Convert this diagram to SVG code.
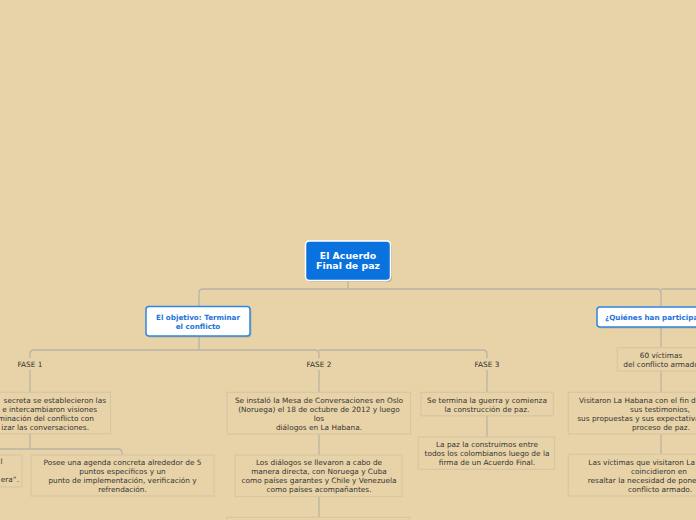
<svg xmlns="http://www.w3.org/2000/svg" width="696" height="520" viewBox="0 0 696 520">
<defs>
<style>
.bg{fill:#E8D3A8}
.ln{fill:none;stroke:#B9B3A5;stroke-width:1.3}
.box{fill:#E8D3A8;stroke:#D5C6A4;stroke-width:1.2}
.t{font-family:"DejaVu Sans","Verdana",sans-serif;font-size:7.35px;fill:#333}
.c{text-anchor:middle}
.e{text-anchor:end}
.root{fill:#0A72DF;stroke:#FFFFFF;stroke-width:1.5}
.rt{font-family:"DejaVu Sans",sans-serif;font-size:9.4px;font-weight:bold;fill:#FFFFFF;text-anchor:middle}
.sub{fill:#FFFFFF;stroke:#2E86E2;stroke-width:1.5}
.sh{fill:#9C8F78;opacity:0.45}
.st{font-family:"DejaVu Sans",sans-serif;font-size:7.2px;font-weight:bold;fill:#1C74DA}
</style>
</defs>
<rect class="bg" x="0" y="0" width="696" height="520"/>

<g id="connectors">
<path class="ln" d="M348,281 V289"/>
<path class="ln" d="M348,289 H203 Q199,289 199,293 V306"/>
<path class="ln" d="M348,289 H657 Q661,289 661,293 V306"/>
<path class="ln" d="M661,289 H700"/>
<path class="ln" d="M199,337 V350"/>
<path class="ln" d="M199,350 H34 Q30,350 30,354 V358"/>
<path class="ln" d="M199,350 H315 Q319,350 319,354 V358"/>
<path class="ln" d="M319,350 H483 Q487,350 487,354 V358"/>
<path class="ln" d="M30,370 V392"/>
<path class="ln" d="M319,370 V392"/>
<path class="ln" d="M487,370 V392"/>
<path class="ln" d="M30,434 V449"/>
<path class="ln" d="M30,449 H118 Q122,449 122,453 V455"/>
<path class="ln" d="M30,449 H-10"/>
<path class="ln" d="M319,434 V455"/>
<path class="ln" d="M319,497 V517"/>
<path class="ln" d="M487,416 V437"/>
<path class="ln" d="M661,327 V348"/>
<path class="ln" d="M661,371 V392"/>
<path class="ln" d="M661,434 V454"/>
</g>

<g id="root">
<rect class="sh" x="307" y="243" width="85" height="39" rx="4"/>
<rect class="root" x="305.5" y="241" width="85" height="39.5" rx="4"/>
<text class="rt" x="348" y="259">El Acuerdo</text>
<text class="rt" x="348" y="269">Final de paz</text>
</g>

<g id="objetivo">
<rect class="sh" x="147.5" y="308" width="104" height="29.5" rx="3"/>
<rect class="sub" x="146" y="306.5" width="104" height="29.5" rx="3"/>
<text class="st c" x="198" y="320.2">El objetivo: Terminar</text>
<text class="st c" x="198" y="329.2">el conflicto</text>
</g>

<g id="quienes">
<rect class="sh" x="598.5" y="308.5" width="130" height="20" rx="3"/>
<rect class="sub" x="597" y="307" width="130" height="20" rx="3"/>
<text class="st" x="605" y="320">¿Quiénes han participado?</text>
</g>

<g id="fase1">
<text class="t c" x="30" y="366.5">FASE 1</text>
</g>
<g id="fase2">
<text class="t c" x="319" y="366.5">FASE 2</text>
</g>
<g id="fase3">
<text class="t c" x="487" y="366.5">FASE 3</text>
</g>

<g id="f1-box1">
<rect class="box" x="-50" y="392.3" width="160.5" height="41.5"/>
<text class="t e" x="106" y="403">secreta se establecieron las</text>
<text class="t e" x="97" y="412">e intercambiaron visiones</text>
<text class="t e" x="94" y="421">minación del conflicto con</text>
<text class="t e" x="89" y="430">izar las conversaciones.</text>
</g>

<g id="f1-box2">
<rect class="box" x="-120" y="455" width="142" height="32"/>
<text class="t e" x="2.5" y="463.5">l</text>
<text class="t e" x="19" y="481.5">era”.</text>
</g>

<g id="f1-box3">
<rect class="box" x="31" y="455" width="183" height="41"/>
<text class="t c" x="122.5" y="464.5">Posee una agenda concreta alrededor de 5</text>
<text class="t c" x="122.5" y="473.5">puntos específicos y un</text>
<text class="t c" x="122.5" y="482.5">punto de implementación, verificación y</text>
<text class="t c" x="122.5" y="491.5">refrendación.</text>
</g>

<g id="f2-box1">
<rect class="box" x="227" y="392.3" width="183.5" height="41.7"/>
<text class="t c" x="319" y="403">Se instaló la Mesa de Conversaciones en Oslo</text>
<text class="t c" x="319" y="412">(Noruega) el 18 de octubre de 2012 y luego</text>
<text class="t c" x="319" y="421">los</text>
<text class="t c" x="319" y="430">diálogos en La Habana.</text>
</g>

<g id="f2-box2">
<rect class="box" x="235" y="455" width="167" height="41.5"/>
<text class="t c" x="319" y="464.5">Los diálogos se llevaron a cabo de</text>
<text class="t c" x="319" y="473.5">manera directa, con Noruega y Cuba</text>
<text class="t c" x="319" y="482.5">como países garantes y Chile y Venezuela</text>
<text class="t c" x="319" y="491.5">como países acompañantes.</text>
</g>

<g id="f2-box3">
<rect class="box" x="227" y="517.3" width="183" height="30"/>
</g>

<g id="f3-box1">
<rect class="box" x="421" y="392.3" width="132.3" height="23.5"/>
<text class="t c" x="487" y="403">Se termina la guerra y comienza</text>
<text class="t c" x="487" y="412">la construcción de paz.</text>
</g>

<g id="f3-box2">
<rect class="box" x="418.3" y="437" width="136.3" height="32.3"/>
<text class="t c" x="487" y="446.5">La paz la construimos entre</text>
<text class="t c" x="487" y="455.5">todos los colombianos luego de la</text>
<text class="t c" x="487" y="464.5">firma de un Acuerdo Final.</text>
</g>

<g id="victimas">
<rect class="box" x="617.3" y="347.7" width="88" height="23.3"/>
<text class="t c" x="661" y="357.8">60 víctimas</text>
<text class="t c" x="661" y="366.5">del conflicto armado</text>
</g>

<g id="visitaron">
<rect class="box" x="568.3" y="392.3" width="186" height="41.7"/>
<text class="t" x="579" y="402.5">Visitaron La Habana con el fin de</text>
<text class="t c" x="660" y="411.5">sus testimonios,</text>
<text class="t" x="577.3" y="420.5">sus propuestas y sus expectativas</text>
<text class="t c" x="661" y="429.5">proceso de paz.</text>
</g>

<g id="coincidieron">
<rect class="box" x="568.3" y="454.3" width="186" height="41.7"/>
<text class="t" x="588.3" y="465">Las víctimas que visitaron La</text>
<text class="t c" x="659" y="474">coincidieron en</text>
<text class="t" x="587.7" y="483">resaltar la necesidad de poner</text>
<text class="t c" x="660" y="492">conflicto armado.</text>
</g>
</svg>
